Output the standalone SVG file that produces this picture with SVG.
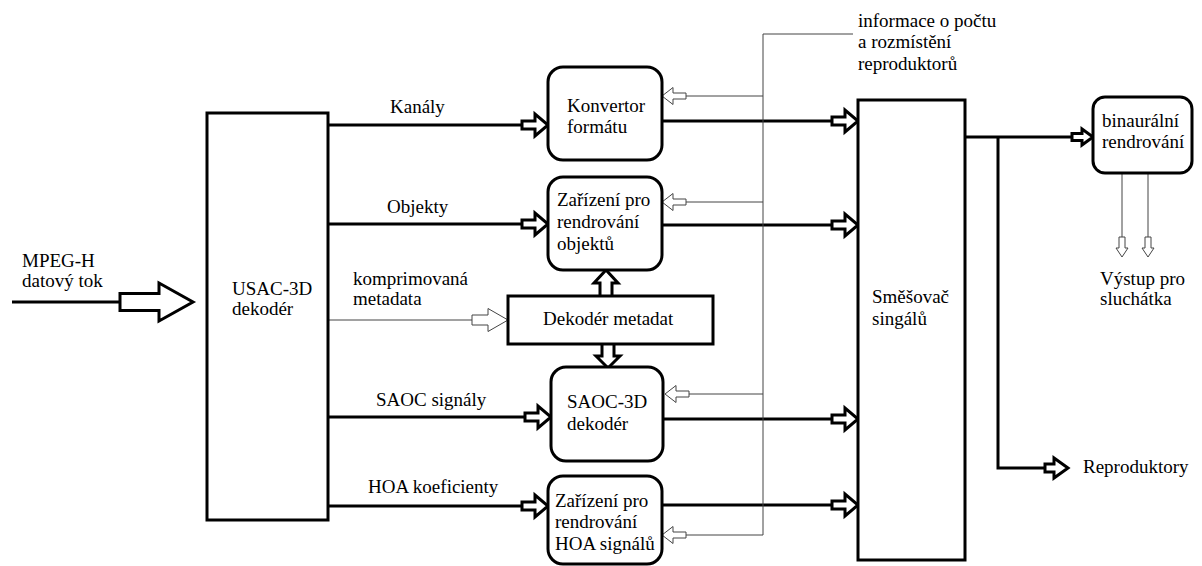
<svg xmlns="http://www.w3.org/2000/svg" xmlns:xlink="http://www.w3.org/1999/xlink" width="1202" height="566" viewBox="0 0 1202 566" font-family="Liberation Serif, DejaVu Serif, serif">
<style>
.bg{fill:#fff}
.box{fill:#fff;stroke:#000;stroke-width:3}
.thick{fill:none;stroke:#000;stroke-width:3}
.thin{fill:none;stroke:#444;stroke-width:1}
.barrow{fill:#fff;stroke:#000;stroke-width:3;stroke-linejoin:miter}
.farrow{fill:#fff;stroke:#444;stroke-width:1}
text{font-family:'Liberation Serif','DejaVu Serif',serif;font-size:19px;fill:#000}
</style>
<defs>
<path id="ba" class="barrow" d="M-26,-4 H-13 V-11 L0,0 L-13,11 V4 H-26 Z"/>
<path id="fa" class="farrow" d="M0,0 L11,-8.5 V-3 H24 V3 H11 V8.5 Z"/>
</defs>
<rect class="bg" x="0" y="0" width="1202" height="566"/>

<g id="connectors">
  <line class="thick" x1="12" y1="302" x2="120" y2="302"/>
  <path class="barrow" d="M120,293.5 H159 V283 L193,302 L159,321 V310.5 H120 Z"/>
  <line class="thick" x1="328" y1="125" x2="522" y2="125"/>
  <use xlink:href="#ba" transform="translate(548,125)"/>
  <line class="thick" x1="328" y1="224" x2="522" y2="224"/>
  <use xlink:href="#ba" transform="translate(548,224)"/>
  <line class="thin" x1="328" y1="320" x2="472" y2="320"/>
  <path class="farrow" d="M472,315 H488 V308.5 L508,320 L488,331.5 V325 H472 Z"/>
  <line class="thick" x1="328" y1="417" x2="524" y2="417"/>
  <use xlink:href="#ba" transform="translate(551,417)"/>
  <line class="thick" x1="328" y1="506" x2="522" y2="506"/>
  <use xlink:href="#ba" transform="translate(548,506)"/>
  <path class="barrow" d="M600,296 V283 H594 L606,270 L618,283 H612 V296"/>
  <path class="barrow" d="M602,344 V356 H596 L608,368 L620,356 H614 V344"/>
  <line class="thick" x1="662" y1="121" x2="832" y2="121"/>
  <use xlink:href="#ba" transform="translate(858,121)"/>
  <line class="thick" x1="662" y1="225" x2="832" y2="225"/>
  <use xlink:href="#ba" transform="translate(858,225)"/>
  <line class="thick" x1="663" y1="419" x2="832" y2="419"/>
  <use xlink:href="#ba" transform="translate(858,419)"/>
  <line class="thick" x1="662" y1="505" x2="832" y2="505"/>
  <use xlink:href="#ba" transform="translate(858,505)"/>
  <polyline class="thin" points="853,34 763,34 763,535 686,535"/>
  <line class="thin" x1="763" y1="96" x2="686" y2="96"/>
  <line class="thin" x1="763" y1="202" x2="686" y2="202"/>
  <line class="thin" x1="763" y1="394" x2="689" y2="394"/>
  <use xlink:href="#fa" transform="translate(662,96)"/>
  <use xlink:href="#fa" transform="translate(662,202)"/>
  <use xlink:href="#fa" transform="translate(665,394)"/>
  <use xlink:href="#fa" transform="translate(662,535)"/>
  <line class="thick" x1="965" y1="137" x2="1072" y2="137"/>
  <path class="barrow" d="M1072,133.5 H1082 V129 L1093,137 L1082,145 V140.5 H1072 Z"/>
  <polyline class="thick" points="998,137 998,468 1045,468"/>
  <path class="barrow" d="M1045,464 H1054 V458 L1068,468 L1054,478 V472 H1045 Z"/>
  <line class="thin" x1="1122" y1="173" x2="1122" y2="237"/>
  <line class="thin" x1="1148" y1="173" x2="1148" y2="237"/>
  <path class="farrow" d="M1119,237 V248 H1116 L1122,257 L1128,248 H1125 V237 Z"/>
  <path class="farrow" d="M1145,237 V248 H1142 L1148,257 L1154,248 H1151 V237 Z"/>
</g>

<g id="input-label">
  <text x="22" y="267">MPEG-H</text>
  <text x="22" y="287">datový tok</text>
</g>
<g id="usac">
  <rect class="box" x="207" y="113" width="121" height="407"/>
  <text x="232" y="295">USAC-3D</text>
  <text x="232" y="315">dekodér</text>
</g>
<g id="labels">
  <text x="390" y="113">Kanály</text>
  <text x="387" y="213">Objekty</text>
  <text x="353" y="285">komprimovaná</text>
  <text x="353" y="305">metadata</text>
  <text x="376" y="406">SAOC signály</text>
  <text x="368" y="493">HOA koeficienty</text>
</g>
<g id="konvertor">
  <rect class="box" x="548" y="67" width="114" height="93" rx="15"/>
  <text x="567" y="112">Konvertor</text>
  <text x="567" y="133">formátu</text>
</g>
<g id="objekty">
  <rect class="box" x="548" y="177" width="114" height="93" rx="15"/>
  <text x="557" y="206">Zařízení pro</text>
  <text x="557" y="228">rendrování</text>
  <text x="557" y="250">objektů</text>
</g>
<g id="metadata">
  <rect class="box" x="508" y="296" width="205" height="48"/>
  <text x="543" y="325">Dekodér metadat</text>
</g>
<g id="saoc">
  <rect class="box" x="551" y="367" width="112" height="94" rx="15"/>
  <text x="567" y="408">SAOC-3D</text>
  <text x="567" y="430">dekodér</text>
</g>
<g id="hoa">
  <rect class="box" x="548" y="476" width="114" height="88" rx="15"/>
  <text x="555" y="507">Zařízení pro</text>
  <text x="555" y="528">rendrování</text>
  <text x="555" y="550">HOA signálů</text>
</g>
<g id="info">
  <text x="858" y="27">informace o počtu</text>
  <text x="858" y="48">a rozmístění</text>
  <text x="858" y="70">reproduktorů</text>
</g>
<g id="mixer">
  <rect class="box" x="858" y="100" width="107" height="460"/>
  <text x="872" y="303">Směšovač</text>
  <text x="872" y="325">singálů</text>
</g>
<g id="binaural">
  <rect class="box" x="1093" y="97" width="99" height="76" rx="12"/>
  <text x="1102" y="127">binaurální</text>
  <text x="1102" y="148">rendrování</text>
</g>
<g id="headphones">
  <text x="1100" y="285">Výstup pro</text>
  <text x="1100" y="305">sluchátka</text>
</g>
<g id="speakers">
  <text x="1083" y="473">Reproduktory</text>
</g>
</svg>
